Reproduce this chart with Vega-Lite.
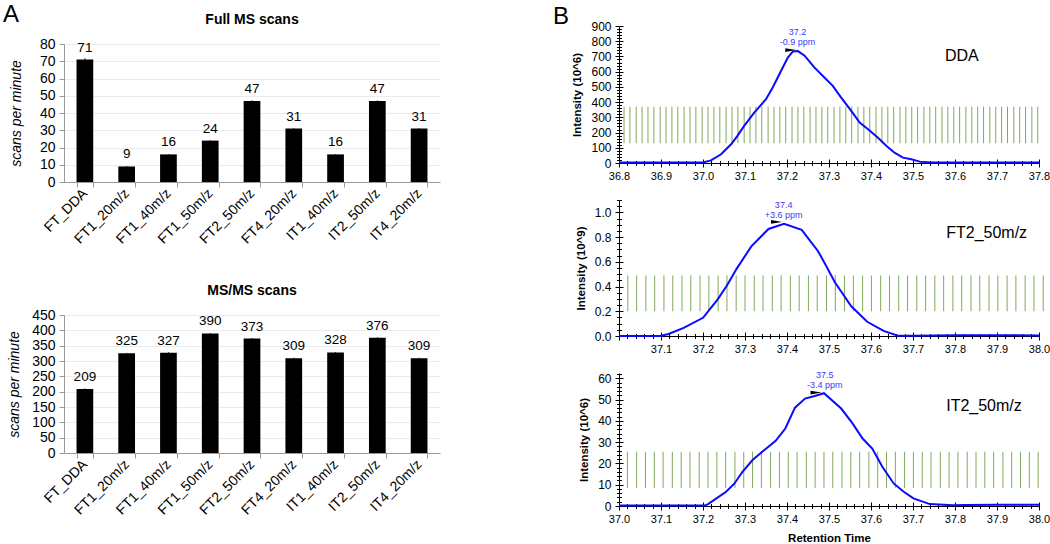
{
  "$schema": "https://vega.github.io/schema/vega-lite/v6.json",
  "padding": {"left": 3, "top": 3, "right": 0, "bottom": 0},
  "config": {
    "font": "Liberation Sans",
    "view": {"stroke": null},
    "axis": {"labelFont": "Liberation Sans", "titleFont": "Liberation Sans", "labelColor": "#000", "titleColor": "#000", "domainColor": "#000", "tickColor": "#000", "grid": false},
    "title": {"font": "Liberation Sans", "color": "#000"}
  },
  "datasets": {
    "full": [
      {"c": "FT_DDA", "v": 71, "e": 0.7}, {"c": "FT1_20m/z", "v": 9, "e": 0.2}, {"c": "FT1_40m/z", "v": 16, "e": 0.2},
      {"c": "FT1_50m/z", "v": 24, "e": 0.2}, {"c": "FT2_50m/z", "v": 47, "e": 0.3}, {"c": "FT4_20m/z", "v": 31, "e": 0.2},
      {"c": "IT1_40m/z", "v": 16, "e": 0.2}, {"c": "IT2_50m/z", "v": 47, "e": 0.3}, {"c": "IT4_20m/z", "v": 31, "e": 0.2}
    ],
    "msms": [
      {"c": "FT_DDA", "v": 209, "e": 1.5}, {"c": "FT1_20m/z", "v": 325, "e": 1.5}, {"c": "FT1_40m/z", "v": 327, "e": 1.5},
      {"c": "FT1_50m/z", "v": 390, "e": 1.5}, {"c": "FT2_50m/z", "v": 373, "e": 1.5}, {"c": "FT4_20m/z", "v": 309, "e": 1.5},
      {"c": "IT1_40m/z", "v": 328, "e": 1.5}, {"c": "IT2_50m/z", "v": 376, "e": 1.5}, {"c": "IT4_20m/z", "v": 309, "e": 1.5}
    ],
    "dda_ms2": [
      {"t": 36.812}, {"t": 36.826}, {"t": 36.841}, {"t": 36.855}, {"t": 36.869}, {"t": 36.883}, {"t": 36.898}, {"t": 36.912}, {"t": 36.926}, {"t": 36.940},
      {"t": 36.955}, {"t": 36.969}, {"t": 36.983}, {"t": 36.998}, {"t": 37.012}, {"t": 37.026}, {"t": 37.040}, {"t": 37.055}, {"t": 37.069}, {"t": 37.083},
      {"t": 37.098}, {"t": 37.112}, {"t": 37.126}, {"t": 37.140}, {"t": 37.155}, {"t": 37.169}, {"t": 37.183}, {"t": 37.197}, {"t": 37.212}, {"t": 37.226},
      {"t": 37.240}, {"t": 37.255}, {"t": 37.269}, {"t": 37.283}, {"t": 37.297}, {"t": 37.312}, {"t": 37.326}, {"t": 37.340}, {"t": 37.354}, {"t": 37.369},
      {"t": 37.383}, {"t": 37.397}, {"t": 37.412}, {"t": 37.426}, {"t": 37.440}, {"t": 37.454}, {"t": 37.469}, {"t": 37.483}, {"t": 37.497}, {"t": 37.511},
      {"t": 37.526}, {"t": 37.540}, {"t": 37.554}, {"t": 37.569}, {"t": 37.583}, {"t": 37.597}, {"t": 37.611}, {"t": 37.626}, {"t": 37.640}, {"t": 37.654},
      {"t": 37.668}, {"t": 37.683}, {"t": 37.697}, {"t": 37.711}, {"t": 37.725}, {"t": 37.740}, {"t": 37.754}, {"t": 37.768}, {"t": 37.783}, {"t": 37.797}
    ],
    "ft2_ms2": [
      {"t": 37.021}, {"t": 37.042}, {"t": 37.064}, {"t": 37.085}, {"t": 37.107}, {"t": 37.128}, {"t": 37.150}, {"t": 37.171}, {"t": 37.193}, {"t": 37.214},
      {"t": 37.236}, {"t": 37.257}, {"t": 37.279}, {"t": 37.300}, {"t": 37.322}, {"t": 37.343}, {"t": 37.365}, {"t": 37.386}, {"t": 37.408}, {"t": 37.429},
      {"t": 37.451}, {"t": 37.472}, {"t": 37.494}, {"t": 37.515}, {"t": 37.537}, {"t": 37.558}, {"t": 37.580}, {"t": 37.601}, {"t": 37.623}, {"t": 37.644},
      {"t": 37.666}, {"t": 37.687}, {"t": 37.709}, {"t": 37.730}, {"t": 37.752}, {"t": 37.773}, {"t": 37.795}, {"t": 37.816}, {"t": 37.838}, {"t": 37.859},
      {"t": 37.881}, {"t": 37.902}, {"t": 37.924}, {"t": 37.945}, {"t": 37.967}, {"t": 37.988}, {"t": 38.010}
    ],
    "it2_ms2": [
      {"t": 37.020}, {"t": 37.042}, {"t": 37.063}, {"t": 37.084}, {"t": 37.105}, {"t": 37.127}, {"t": 37.148}, {"t": 37.169}, {"t": 37.191}, {"t": 37.212},
      {"t": 37.233}, {"t": 37.254}, {"t": 37.276}, {"t": 37.297}, {"t": 37.318}, {"t": 37.339}, {"t": 37.361}, {"t": 37.382}, {"t": 37.403}, {"t": 37.424},
      {"t": 37.446}, {"t": 37.467}, {"t": 37.488}, {"t": 37.509}, {"t": 37.531}, {"t": 37.552}, {"t": 37.573}, {"t": 37.595}, {"t": 37.616}, {"t": 37.637},
      {"t": 37.658}, {"t": 37.680}, {"t": 37.701}, {"t": 37.722}, {"t": 37.743}, {"t": 37.765}, {"t": 37.786}, {"t": 37.807}, {"t": 37.829}, {"t": 37.850},
      {"t": 37.871}, {"t": 37.892}, {"t": 37.914}, {"t": 37.935}, {"t": 37.956}, {"t": 37.977}, {"t": 37.998}
    ],
    "dda_xic": [
      {"t": 36.80, "i": 3}, {"t": 36.90, "i": 3}, {"t": 37.00, "i": 3}, {"t": 37.019, "i": 17}, {"t": 37.043, "i": 57},
      {"t": 37.067, "i": 123}, {"t": 37.082, "i": 178}, {"t": 37.098, "i": 244}, {"t": 37.122, "i": 331}, {"t": 37.150, "i": 419},
      {"t": 37.166, "i": 496}, {"t": 37.186, "i": 606}, {"t": 37.202, "i": 693}, {"t": 37.214, "i": 733}, {"t": 37.226, "i": 735},
      {"t": 37.242, "i": 705}, {"t": 37.265, "i": 628}, {"t": 37.289, "i": 562}, {"t": 37.309, "i": 507}, {"t": 37.329, "i": 430},
      {"t": 37.353, "i": 342}, {"t": 37.373, "i": 265}, {"t": 37.393, "i": 222}, {"t": 37.416, "i": 167}, {"t": 37.437, "i": 112},
      {"t": 37.456, "i": 68}, {"t": 37.476, "i": 35}, {"t": 37.496, "i": 24}, {"t": 37.516, "i": 9}, {"t": 37.544, "i": 4},
      {"t": 37.60, "i": 3}, {"t": 37.70, "i": 3}, {"t": 37.80, "i": 3}
    ],
    "ft2_xic": [
      {"t": 37.00, "i": 0}, {"t": 37.098, "i": 0}, {"t": 37.118, "i": 0.016}, {"t": 37.154, "i": 0.065}, {"t": 37.200, "i": 0.147},
      {"t": 37.235, "i": 0.296}, {"t": 37.257, "i": 0.409}, {"t": 37.280, "i": 0.543}, {"t": 37.315, "i": 0.725}, {"t": 37.356, "i": 0.866},
      {"t": 37.393, "i": 0.908}, {"t": 37.435, "i": 0.858}, {"t": 37.474, "i": 0.686}, {"t": 37.494, "i": 0.563}, {"t": 37.514, "i": 0.435},
      {"t": 37.553, "i": 0.240}, {"t": 37.591, "i": 0.115}, {"t": 37.630, "i": 0.041}, {"t": 37.664, "i": 0.003}, {"t": 37.70, "i": 0.002},
      {"t": 37.75, "i": 0.005}, {"t": 37.80, "i": 0.006}, {"t": 37.90, "i": 0.006}, {"t": 38.00, "i": 0.005}
    ],
    "it2_xic": [
      {"t": 37.00, "i": 0.2}, {"t": 37.204, "i": 0.2}, {"t": 37.212, "i": 0.9}, {"t": 37.232, "i": 3.6}, {"t": 37.255, "i": 6.7},
      {"t": 37.275, "i": 10.6}, {"t": 37.294, "i": 16.1}, {"t": 37.318, "i": 21.6}, {"t": 37.341, "i": 25.5}, {"t": 37.373, "i": 30.6},
      {"t": 37.396, "i": 36.4}, {"t": 37.419, "i": 46.2}, {"t": 37.443, "i": 50.5}, {"t": 37.466, "i": 51.7}, {"t": 37.488, "i": 53.0},
      {"t": 37.529, "i": 45.8}, {"t": 37.556, "i": 38.8}, {"t": 37.580, "i": 31.7}, {"t": 37.603, "i": 27.0}, {"t": 37.627, "i": 18.4},
      {"t": 37.654, "i": 10.6}, {"t": 37.678, "i": 6.7}, {"t": 37.701, "i": 3.6}, {"t": 37.740, "i": 0.9}, {"t": 37.795, "i": 0.3},
      {"t": 37.826, "i": 0.5}, {"t": 37.90, "i": 0.6}, {"t": 38.00, "i": 0.6}
    ]
  },
  "spacing": 112,
  "hconcat": [
    {
      "spacing": -14,
      "vconcat": [
        {
          "title": {"text": "A", "fontSize": 24, "fontWeight": "normal", "anchor": "start", "frame": "group", "dx": -61, "offset": -1},
          "width": 376, "height": 1,
          "data": {"values": []},
          "mark": "point"
        },
        {
          "spacing": 37,
          "vconcat": [
            {
              "title": {"text": "Full MS scans", "fontSize": 14, "fontWeight": "bold", "frame": "group", "anchor": "middle", "offset": 10},
              "width": 376, "height": 138,
              "data": {"name": "full"},
              "encoding": {
                "x": {"field": "c", "type": "nominal", "sort": null, "scale": {"paddingInner": 0.6, "paddingOuter": 0.3},
                      "axis": {"title": null, "labelAngle": -45, "labelBaseline": "middle", "labelFontSize": 14, "tickBand": "extent", "tickSize": 5, "domainColor": "#999", "tickColor": "#999", "labelPadding": 4}},
                "y": {"field": "v", "type": "quantitative", "scale": {"domain": [0, 80], "nice": false},
                      "axis": {"title": "scans per minute", "titleFontStyle": "italic", "titleFontWeight": "normal", "titleFontSize": 14, "titlePadding": 16,
                               "tickCount": 8, "labelFontSize": 14, "grid": true, "gridColor": "#ebebeb", "domainColor": "#999", "tickColor": "#999", "tickSize": 5, "labelPadding": 4}}
              },
              "layer": [
                {"mark": {"type": "bar", "color": "#000"}},
                {"mark": {"type": "errorbar", "color": "#000"}, "encoding": {"yError": {"field": "e"}}},
                {"mark": {"type": "text", "fontSize": 13.5, "baseline": "alphabetic", "dy": -8}, "encoding": {"text": {"field": "v", "type": "quantitative"}}}
              ]
            },
            {
              "title": {"text": "MS/MS scans", "fontSize": 14, "fontWeight": "bold", "frame": "group", "anchor": "middle", "offset": 10},
              "width": 376, "height": 138,
              "data": {"name": "msms"},
              "encoding": {
                "x": {"field": "c", "type": "nominal", "sort": null, "scale": {"paddingInner": 0.6, "paddingOuter": 0.3},
                      "axis": {"title": null, "labelAngle": -45, "labelBaseline": "middle", "labelFontSize": 14, "tickBand": "extent", "tickSize": 5, "domainColor": "#999", "tickColor": "#999", "labelPadding": 4}},
                "y": {"field": "v", "type": "quantitative", "scale": {"domain": [0, 450], "nice": false},
                      "axis": {"title": "scans per minute", "titleFontStyle": "italic", "titleFontWeight": "normal", "titleFontSize": 14, "titlePadding": 10,
                               "tickCount": 9, "labelFontSize": 14, "grid": true, "gridColor": "#ebebeb", "domainColor": "#999", "tickColor": "#999", "tickSize": 5, "labelPadding": 4}}
              },
              "layer": [
                {"mark": {"type": "bar", "color": "#000"}},
                {"mark": {"type": "errorbar", "color": "#000"}, "encoding": {"yError": {"field": "e"}}},
                {"mark": {"type": "text", "fontSize": 13.5, "baseline": "alphabetic", "dy": -8}, "encoding": {"text": {"field": "v", "type": "quantitative"}}}
              ]
            }
          ]
        }
      ]
    },
    {
      "title": {"text": "B", "fontSize": 24, "fontWeight": "normal", "anchor": "start", "offset": -9, "dx": -19},
      "spacing": 37,
      "bounds": "flush",
      "vconcat": [
        {
          "width": 420, "height": 137,
          "layer": [
            {"data": {"name": "dda_ms2"}, "mark": {"type": "rule", "color": "#6b9a3e", "strokeWidth": 1, "opacity": 0.85},
             "encoding": {
               "x": {"field": "t", "type": "quantitative", "scale": {"domain": [36.8, 37.8], "nice": false, "zero": false},
                     "axis": {"orient": "bottom", "tickCount": 50, "labels": false, "title": null, "domain": false,
                              "tickSize": {"condition": {"test": "abs(datum.value*10 - round(datum.value*10)) < 0.001", "value": -4}, "value": -2.5}}},
               "y": {"datum": 130, "type": "quantitative", "scale": {"domain": [0, 900], "nice": false},
                     "axis": {"orient": "left", "tickCount": 45, "labels": false, "title": null, "domain": false,
                              "tickSize": {"condition": {"test": "datum.value % 100 == 0", "value": -4}, "value": -2.5}}},
               "y2": {"datum": 370}
             }},
            {"data": {"name": "dda_xic"}, "mark": {"type": "line", "color": "#0a0aff", "strokeWidth": 2},
             "encoding": {
               "x": {"field": "t", "type": "quantitative",
                     "axis": {"orient": "bottom", "tickCount": 50, "title": null, "labelFontSize": 11, "labelPadding": 3, "labelOverlap": false, "labelFlush": false,
                              "labelExpr": "abs(datum.value*10 - round(datum.value*10)) < 0.001 ? format(datum.value, '.1f') : ''",
                              "tickSize": {"condition": {"test": "abs(datum.value*10 - round(datum.value*10)) < 0.001", "value": 4}, "value": 2.5}}},
               "y": {"field": "i", "type": "quantitative",
                     "axis": {"orient": "left", "tickCount": 45, "title": "Intensity (10^6)", "titleFontWeight": "bold", "titleFontSize": 11.5, "titlePadding": 8,
                              "labelFontSize": 12, "labelPadding": 4, "labelOverlap": false,
                              "labelExpr": "datum.value % 100 == 0 ? format(datum.value, 'd') : ''",
                              "tickSize": {"condition": {"test": "datum.value % 100 == 0", "value": 4}, "value": 2.5}}}
             }},
            {"data": {"values": [{"t": 37.209, "i": 742}]},
             "mark": {"type": "point", "shape": "M-1,-0.35L1,0L-1,0.35Z", "filled": true, "color": "#000", "size": 121, "opacity": 1},
             "encoding": {"x": {"field": "t", "type": "quantitative", "axis": null}, "y": {"field": "i", "type": "quantitative", "axis": null}}},
            {"data": {"values": [{"t": 37.225, "i": 858, "lab": "37.2\n-0.9 ppm"}]},
             "mark": {"type": "text", "color": "#3a3aff", "fontSize": 9, "lineBreak": "\n", "lineHeight": 10, "baseline": "middle"},
             "encoding": {"x": {"field": "t", "type": "quantitative", "axis": null}, "y": {"field": "i", "type": "quantitative", "axis": null}, "text": {"field": "lab"}}},
            {"data": {"values": [{"t": 37.576, "i": 705, "lab": "DDA"}]},
             "mark": {"type": "text", "color": "#000", "fontSize": 16, "align": "left", "baseline": "middle"},
             "encoding": {"x": {"field": "t", "type": "quantitative", "axis": null}, "y": {"field": "i", "type": "quantitative", "axis": null}, "text": {"field": "lab"}}}
          ],
          "resolve": {"axis": {"x": "independent", "y": "independent"}}
        },
        {
          "width": 420, "height": 136,
          "layer": [
            {"data": {"name": "ft2_ms2"}, "mark": {"type": "rule", "color": "#6b9a3e", "strokeWidth": 1, "opacity": 0.85},
             "encoding": {
               "x": {"field": "t", "type": "quantitative", "scale": {"domain": [37.0, 38.0], "nice": false, "zero": false},
                     "axis": {"orient": "bottom", "tickCount": 50, "labels": false, "title": null, "domain": false,
                              "tickSize": {"condition": {"test": "abs(datum.value*10 - round(datum.value*10)) < 0.001", "value": -4}, "value": -2.5}}},
               "y": {"datum": 0.2, "type": "quantitative", "scale": {"domain": [0, 1.1], "nice": false},
                     "axis": {"orient": "left", "tickCount": 22, "labels": false, "title": null, "domain": false,
                              "tickSize": {"condition": {"test": "abs(datum.value*5 - round(datum.value*5)) < 0.001", "value": -4}, "value": -2.5}}},
               "y2": {"datum": 0.49}
             }},
            {"data": {"name": "ft2_xic"}, "mark": {"type": "line", "color": "#0a0aff", "strokeWidth": 2},
             "encoding": {
               "x": {"field": "t", "type": "quantitative",
                     "axis": {"orient": "bottom", "tickCount": 50, "title": null, "labelFontSize": 11, "labelPadding": 3, "labelOverlap": false, "labelFlush": false,
                              "labelExpr": "datum.value > 37.05 && abs(datum.value*10 - round(datum.value*10)) < 0.001 ? format(datum.value, '.1f') : ''",
                              "tickSize": {"condition": {"test": "abs(datum.value*10 - round(datum.value*10)) < 0.001", "value": 4}, "value": 2.5}}},
               "y": {"field": "i", "type": "quantitative",
                     "axis": {"orient": "left", "tickCount": 22, "title": "Intensity (10^9)", "titleFontWeight": "bold", "titleFontSize": 11.5, "titlePadding": 8,
                              "labelFontSize": 12, "labelPadding": 4, "labelOverlap": false,
                              "labelExpr": "abs(datum.value*5 - round(datum.value*5)) < 0.001 ? format(datum.value, '.1f') : ''",
                              "tickSize": {"condition": {"test": "abs(datum.value*5 - round(datum.value*5)) < 0.001", "value": 4}, "value": 2.5}}}
             }},
            {"data": {"values": [{"t": 37.375, "i": 0.923}]},
             "mark": {"type": "point", "shape": "M-1,-0.35L1,0L-1,0.35Z", "filled": true, "color": "#000", "size": 121, "opacity": 1},
             "encoding": {"x": {"field": "t", "type": "quantitative", "axis": null}, "y": {"field": "i", "type": "quantitative", "axis": null}}},
            {"data": {"values": [{"t": 37.392, "i": 1.062, "lab": "37.4\n+3.6 ppm"}]},
             "mark": {"type": "text", "color": "#3a3aff", "fontSize": 9, "lineBreak": "\n", "lineHeight": 10, "baseline": "middle"},
             "encoding": {"x": {"field": "t", "type": "quantitative", "axis": null}, "y": {"field": "i", "type": "quantitative", "axis": null}, "text": {"field": "lab"}}},
            {"data": {"values": [{"t": 37.779, "i": 0.83, "lab": "FT2_50m/z"}]},
             "mark": {"type": "text", "color": "#000", "fontSize": 16, "align": "left", "baseline": "middle"},
             "encoding": {"x": {"field": "t", "type": "quantitative", "axis": null}, "y": {"field": "i", "type": "quantitative", "axis": null}, "text": {"field": "lab"}}}
          ],
          "resolve": {"axis": {"x": "independent", "y": "independent"}}
        },
        {
          "width": 420, "height": 133,
          "layer": [
            {"data": {"name": "it2_ms2"}, "mark": {"type": "rule", "color": "#6b9a3e", "strokeWidth": 1, "opacity": 0.85},
             "encoding": {
               "x": {"field": "t", "type": "quantitative", "scale": {"domain": [37.0, 38.0], "nice": false, "zero": false},
                     "axis": {"orient": "bottom", "tickCount": 50, "labels": false, "title": null, "domain": false,
                              "tickSize": {"condition": {"test": "abs(datum.value*10 - round(datum.value*10)) < 0.001", "value": -4}, "value": -2.5}}},
               "y": {"datum": 8.5, "type": "quantitative", "scale": {"domain": [0, 62.5], "nice": false},
                     "axis": {"orient": "left", "tickCount": 31, "labels": false, "title": null, "domain": false,
                              "tickSize": {"condition": {"test": "datum.value % 10 == 0", "value": -4}, "value": -2.5}}},
               "y2": {"datum": 25.5}
             }},
            {"data": {"name": "it2_xic"}, "mark": {"type": "line", "color": "#0a0aff", "strokeWidth": 2},
             "encoding": {
               "x": {"field": "t", "type": "quantitative",
                     "axis": {"orient": "bottom", "tickCount": 50, "title": "Retention Time", "titleFontWeight": "bold", "titleFontSize": 11.5, "titlePadding": 8,
                              "labelFontSize": 11, "labelPadding": 3, "labelOverlap": false, "labelFlush": false,
                              "labelExpr": "abs(datum.value*10 - round(datum.value*10)) < 0.001 ? format(datum.value, '.1f') : ''",
                              "tickSize": {"condition": {"test": "abs(datum.value*10 - round(datum.value*10)) < 0.001", "value": 4}, "value": 2.5}}},
               "y": {"field": "i", "type": "quantitative",
                     "axis": {"orient": "left", "tickCount": 31, "title": "Intensity (10^6)", "titleFontWeight": "bold", "titleFontSize": 11.5, "titlePadding": 8,
                              "labelFontSize": 12, "labelPadding": 4, "labelOverlap": false,
                              "labelExpr": "datum.value % 10 == 0 ? format(datum.value, 'd') : ''",
                              "tickSize": {"condition": {"test": "datum.value % 10 == 0", "value": 4}, "value": 2.5}}}
             }},
            {"data": {"values": [{"t": 37.469, "i": 53.3}]},
             "mark": {"type": "point", "shape": "M-1,-0.35L1,0L-1,0.35Z", "filled": true, "color": "#000", "size": 121, "opacity": 1},
             "encoding": {"x": {"field": "t", "type": "quantitative", "axis": null}, "y": {"field": "i", "type": "quantitative", "axis": null}}},
            {"data": {"values": [{"t": 37.49, "i": 61.7, "lab": "37.5\n-3.4 ppm"}]},
             "mark": {"type": "text", "color": "#3a3aff", "fontSize": 9, "lineBreak": "\n", "lineHeight": 10, "baseline": "middle"},
             "encoding": {"x": {"field": "t", "type": "quantitative", "axis": null}, "y": {"field": "i", "type": "quantitative", "axis": null}, "text": {"field": "lab"}}},
            {"data": {"values": [{"t": 37.779, "i": 46.9, "lab": "IT2_50m/z"}]},
             "mark": {"type": "text", "color": "#000", "fontSize": 16, "align": "left", "baseline": "middle"},
             "encoding": {"x": {"field": "t", "type": "quantitative", "axis": null}, "y": {"field": "i", "type": "quantitative", "axis": null}, "text": {"field": "lab"}}}
          ],
          "resolve": {"axis": {"x": "independent", "y": "independent"}}
        }
      ]
    }
  ]
}
